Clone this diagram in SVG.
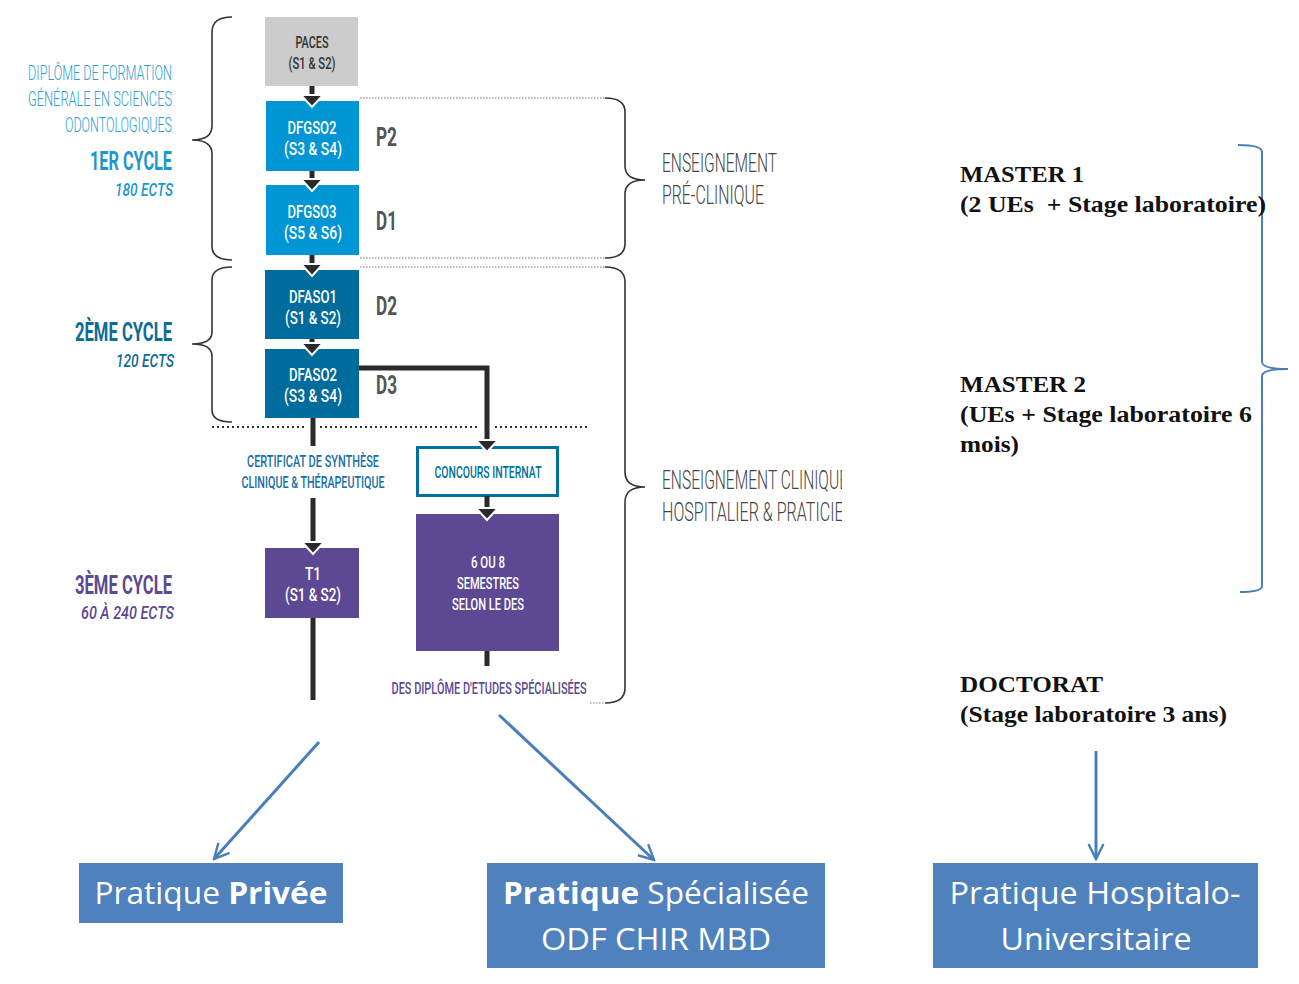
<svg xmlns="http://www.w3.org/2000/svg" width="1299" height="984" viewBox="0 0 1299 984">
<style>
.c{font-family:Roboto,"Liberation Sans",sans-serif;text-anchor:middle}
.bx{font-size:18px;font-weight:500;fill:#fff}
.lt{font-family:Roboto,"Liberation Sans",sans-serif;text-anchor:end}
.yr{font-family:Roboto,"Liberation Sans",sans-serif;font-size:25px;font-weight:700;fill:#555}
.en{font-family:Roboto,"Liberation Sans",sans-serif;font-size:26px;font-weight:300;fill:#444}
.sr{font-family:"Liberation Serif",serif;font-weight:700;font-size:23px;fill:#111}
.bt{font-family:"Open Sans","Noto Sans",sans-serif;font-size:31px;fill:#fff;text-anchor:middle}
.shaft{stroke:#2a2a2a;stroke-width:5;fill:none}
.tri{fill:#2a2a2a;stroke:#fff;stroke-width:2;stroke-linejoin:miter}
.brace{fill:none;stroke:#333;stroke-width:1.6}
.dot{stroke:#777;stroke-width:1;stroke-dasharray:1.5 1.5}
.dotb{stroke:#333;stroke-width:2;stroke-dasharray:2 3}
.ba{stroke:#4a7ebb;stroke-width:3;fill:none}
.bb{fill:#4f81bd}
</style>
<defs>
<marker id="ah" viewBox="0 0 12 12" refX="11" refY="6" markerWidth="6" markerHeight="6" orient="auto" markerUnits="strokeWidth">
<path d="M1,1 L11,6 L1,11" fill="none" stroke="#4a7ebb" stroke-width="1.6"/>
</marker>
<clipPath id="clipR"><rect x="640" y="440" width="202" height="100"/></clipPath>
</defs>
<rect width="1299" height="984" fill="#fff"/>

<g id="braces">
<path class="brace" d="M232,17 Q212,17 212,32 L212,126 Q212,140 192,140 Q212,140 212,154 L212,246 Q212,260 232,260"/>
<path class="brace" d="M232,267 Q212,267 212,280 L212,332 Q212,344 192,344 Q212,344 212,356 L212,410 Q212,422 232,422"/>
<path class="brace" d="M605,98 Q625,98 625,112 L625,166 Q625,180 645,180 Q625,180 625,194 L625,244 Q625,258 605,258"/>
<path class="brace" d="M605,267 Q625,267 625,282 L625,472 Q625,487 645,487 Q625,487 625,502 L625,688 Q625,703 605,703"/>
<path fill="none" stroke="#4a7ebb" stroke-width="2" d="M1238,145 Q1262,145 1262,152 L1262,362 Q1262,369 1288,369 Q1262,369 1262,376 L1262,586 Q1262,592 1240,592"/>
</g>

<g id="guides">
<line class="dot" x1="360" y1="98" x2="605" y2="98"/>
<line class="dot" x1="360" y1="258" x2="605" y2="258"/>
<line class="dot" x1="360" y1="267" x2="605" y2="267"/>
<line class="dot" x1="590" y1="703" x2="605" y2="703"/>
<line class="dotb" x1="212" y1="427" x2="307" y2="427"/>
<line class="dotb" x1="320" y1="427" x2="480" y2="427"/>
<line class="dotb" x1="495" y1="427" x2="590" y2="427"/>
</g>

<g id="left-labels">
<text class="lt" x="172" y="80" font-size="20" font-weight="300" fill="#2f9ed8" textLength="144" lengthAdjust="spacingAndGlyphs">DIPLÔME DE FORMATION</text>
<text class="lt" x="172" y="106" font-size="20" font-weight="300" fill="#2f9ed8" textLength="144" lengthAdjust="spacingAndGlyphs">GÉNÉRALE EN SCIENCES</text>
<text class="lt" x="172" y="132" font-size="20" font-weight="300" fill="#2f9ed8" textLength="107" lengthAdjust="spacingAndGlyphs">ODONTOLOGIQUES</text>
<text class="lt" x="172" y="170" font-size="25" font-weight="700" fill="#1c97d3" textLength="82" lengthAdjust="spacingAndGlyphs">1ER CYCLE</text>
<text class="lt" x="173" y="196" font-size="19" font-weight="500" font-style="italic" fill="#1c97d3" textLength="58" lengthAdjust="spacingAndGlyphs">180 ECTS</text>
<text class="lt" x="172" y="341" font-size="25" font-weight="700" fill="#0d6b98" textLength="97" lengthAdjust="spacingAndGlyphs">2ÈME CYCLE</text>
<text class="lt" x="174" y="367" font-size="19" font-weight="500" font-style="italic" fill="#0d6b98" textLength="58" lengthAdjust="spacingAndGlyphs">120 ECTS</text>
<text class="lt" x="172" y="594" font-size="25" font-weight="700" fill="#5b4a92" textLength="97" lengthAdjust="spacingAndGlyphs">3ÈME CYCLE</text>
<text class="lt" x="174" y="619" font-size="19" font-weight="500" font-style="italic" fill="#5b4a92" textLength="93" lengthAdjust="spacingAndGlyphs">60 À 240 ECTS</text>
</g>

<g id="year-labels">
<text class="yr" x="376" y="146" textLength="21" lengthAdjust="spacingAndGlyphs">P2</text>
<text class="yr" x="376" y="230" textLength="21" lengthAdjust="spacingAndGlyphs">D1</text>
<text class="yr" x="376" y="315" textLength="21" lengthAdjust="spacingAndGlyphs">D2</text>
<text class="yr" x="376" y="394" textLength="21" lengthAdjust="spacingAndGlyphs">D3</text>
</g>

<g id="right-labels">
<text class="en" x="662" y="172" textLength="115" lengthAdjust="spacingAndGlyphs">ENSEIGNEMENT</text>
<text class="en" x="662" y="204" textLength="102" lengthAdjust="spacingAndGlyphs">PRÉ-CLINIQUE</text>
<g clip-path="url(#clipR)">
<text class="en" x="662" y="489" textLength="186" lengthAdjust="spacingAndGlyphs">ENSEIGNEMENT CLINIQUE</text>
<text class="en" x="662" y="521" textLength="193" lengthAdjust="spacingAndGlyphs">HOSPITALIER &amp; PRATICIEN</text>
</g>
</g>

<g id="paces">
<rect x="265" y="17" width="93" height="69" fill="#cccccc"/>
<text class="c" x="312" y="48" font-size="17" font-weight="500" fill="#333" textLength="33" lengthAdjust="spacingAndGlyphs">PACES</text>
<text class="c" x="312" y="69" font-size="17" font-weight="500" fill="#333" textLength="47" lengthAdjust="spacingAndGlyphs">(S1 &amp; S2)</text>
</g>
<g id="dfgso2">
<rect x="266" y="101" width="93" height="70" fill="#0096d6"/>
<text class="c bx" x="312" y="134" textLength="49" lengthAdjust="spacingAndGlyphs">DFGSO2</text>
<text class="c bx" x="313" y="155" textLength="58" lengthAdjust="spacingAndGlyphs">(S3 &amp; S4)</text>
</g>
<g id="dfgso3">
<rect x="266" y="185" width="93" height="70" fill="#0096d6"/>
<text class="c bx" x="312" y="218" textLength="49" lengthAdjust="spacingAndGlyphs">DFGSO3</text>
<text class="c bx" x="313" y="239" textLength="58" lengthAdjust="spacingAndGlyphs">(S5 &amp; S6)</text>
</g>
<g id="dfaso1">
<rect x="265" y="270" width="94" height="69" fill="#006c9b"/>
<text class="c bx" x="313" y="303" textLength="48" lengthAdjust="spacingAndGlyphs">DFASO1</text>
<text class="c bx" x="313" y="324" textLength="56" lengthAdjust="spacingAndGlyphs">(S1 &amp; S2)</text>
</g>
<g id="dfaso2">
<rect x="265" y="349" width="94" height="69" fill="#006c9b"/>
<text class="c bx" x="313" y="381" textLength="48" lengthAdjust="spacingAndGlyphs">DFASO2</text>
<text class="c bx" x="313" y="402" textLength="58" lengthAdjust="spacingAndGlyphs">(S3 &amp; S4)</text>
</g>
<g id="certificat">
<text class="c" x="313" y="467" font-size="17" font-weight="500" fill="#1a6ea8" textLength="132" lengthAdjust="spacingAndGlyphs">CERTIFICAT DE SYNTHÈSE</text>
<text class="c" x="313" y="488" font-size="17" font-weight="500" fill="#1a6ea8" textLength="143" lengthAdjust="spacingAndGlyphs">CLINIQUE &amp; THÉRAPEUTIQUE</text>
</g>
<g id="t1">
<rect x="265" y="548" width="94" height="70" fill="#5d4894"/>
<text class="c bx" x="313" y="580" textLength="16" lengthAdjust="spacingAndGlyphs">T1</text>
<text class="c bx" x="313" y="601" textLength="56" lengthAdjust="spacingAndGlyphs">(S1 &amp; S2)</text>
</g>
<g id="concours">
<rect x="417.5" y="447.5" width="140" height="48" fill="#fff" stroke="#00719e" stroke-width="3"/>
<text class="c" x="488" y="478" font-size="17" font-weight="500" fill="#00719e" textLength="107" lengthAdjust="spacingAndGlyphs">CONCOURS INTERNAT</text>
</g>
<g id="semestres">
<rect x="416" y="514" width="143" height="137" fill="#5d4894"/>
<text class="c" x="488" y="568" font-size="17" font-weight="500" fill="#fff" textLength="34" lengthAdjust="spacingAndGlyphs">6 OU 8</text>
<text class="c" x="488" y="589" font-size="17" font-weight="500" fill="#fff" textLength="62" lengthAdjust="spacingAndGlyphs">SEMESTRES</text>
<text class="c" x="488" y="610" font-size="17" font-weight="500" fill="#fff" textLength="72" lengthAdjust="spacingAndGlyphs">SELON LE DES</text>
</g>
<g id="des">
<text class="c" x="489" y="694" font-size="17" font-weight="500" fill="#5d4894" textLength="195" lengthAdjust="spacingAndGlyphs">DES DIPLÔME D'ETUDES SPÉCIALISÉES</text>
</g>

<g id="master1">
<text class="sr" x="960" y="182" textLength="124" lengthAdjust="spacingAndGlyphs">MASTER 1</text>
<text class="sr" x="960" y="212" xml:space="preserve" textLength="306" lengthAdjust="spacingAndGlyphs">(2 UEs  + Stage laboratoire)</text>
</g>
<g id="master2">
<text class="sr" x="960" y="392" textLength="126" lengthAdjust="spacingAndGlyphs">MASTER 2</text>
<text class="sr" x="960" y="422" textLength="292" lengthAdjust="spacingAndGlyphs">(UEs + Stage laboratoire 6</text>
<text class="sr" x="960" y="452" textLength="59" lengthAdjust="spacingAndGlyphs">mois)</text>
</g>
<g id="doctorat">
<text class="sr" x="960" y="692" textLength="143" lengthAdjust="spacingAndGlyphs">DOCTORAT</text>
<text class="sr" x="960" y="722" textLength="267" lengthAdjust="spacingAndGlyphs">(Stage laboratoire 3 ans)</text>
</g>

<g id="pratique-privee">
<rect class="bb" x="79" y="863" width="264" height="60"/>
<text class="bt" x="211" y="904" textLength="233" lengthAdjust="spacingAndGlyphs">Pratique <tspan font-weight="700">Privée</tspan></text>
</g>
<g id="pratique-specialisee">
<rect class="bb" x="487" y="863" width="338" height="105"/>
<text class="bt" x="656" y="904" textLength="306" lengthAdjust="spacingAndGlyphs"><tspan font-weight="700">Pratique</tspan> Spécialisée</text>
<text class="bt" x="656" y="950" textLength="230" lengthAdjust="spacingAndGlyphs">ODF CHIR MBD</text>
</g>
<g id="pratique-hu">
<rect class="bb" x="933" y="863" width="325" height="105"/>
<text class="bt" x="1095" y="904" textLength="291" lengthAdjust="spacingAndGlyphs">Pratique Hospitalo-</text>
<text class="bt" x="1096" y="950" textLength="191" lengthAdjust="spacingAndGlyphs">Universitaire</text>
</g>

<g id="connectors">
<line class="shaft" x1="312" y1="86" x2="312" y2="97"/>
<polygon class="tri" points="301,95 323,95 312,107"/>
<line class="shaft" x1="312" y1="171" x2="312" y2="181"/>
<polygon class="tri" points="301,179 323,179 312,191"/>
<line class="shaft" x1="312" y1="255" x2="312" y2="266"/>
<polygon class="tri" points="301,264 323,264 312,276"/>
<line class="shaft" x1="312" y1="339" x2="312" y2="345"/>
<polygon class="tri" points="301,343 323,343 312,355"/>
<line class="shaft" x1="313" y1="418" x2="313" y2="446"/>
<line class="shaft" x1="313" y1="498" x2="313" y2="544"/>
<polygon class="tri" points="302,542 324,542 313,554"/>
<line class="shaft" x1="313" y1="618" x2="313" y2="700"/>
<polyline class="shaft" points="359,368 487,368 487,441"/>
<polygon class="tri" points="476,440 498,440 487,452"/>
<line class="shaft" x1="487" y1="496" x2="487" y2="509"/>
<polygon class="tri" points="476,508 498,508 487,520"/>
<line class="shaft" x1="487" y1="651" x2="487" y2="666"/>
<line class="ba" x1="319" y1="742" x2="214" y2="859" marker-end="url(#ah)"/>
<line class="ba" x1="499" y1="715" x2="654" y2="860" marker-end="url(#ah)"/>
<line class="ba" x1="1096" y1="751" x2="1096" y2="859" marker-end="url(#ah)"/>
</g>
</svg>
